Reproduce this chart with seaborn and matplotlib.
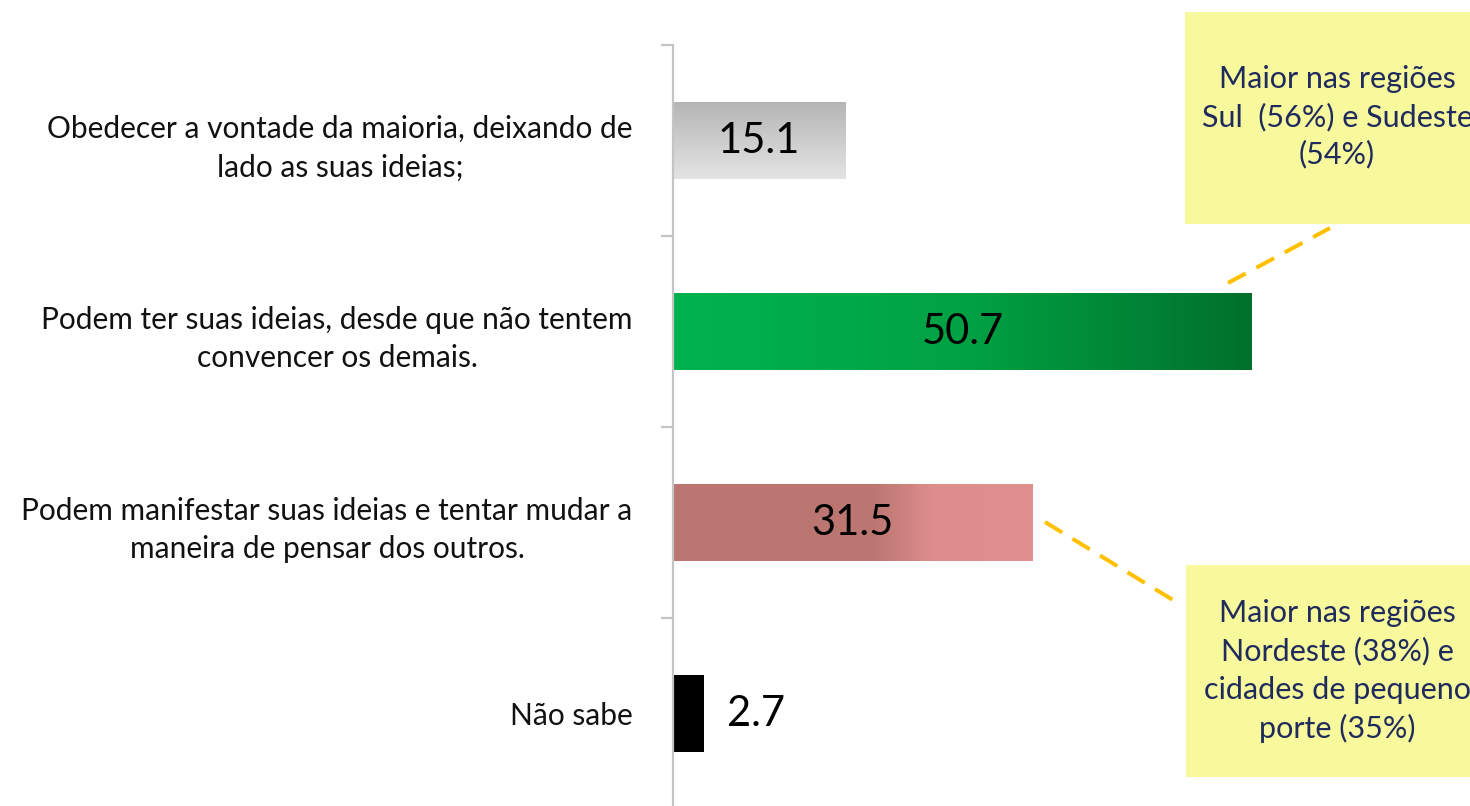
import numpy as np
import pandas as pd
import matplotlib
matplotlib.use("Agg")
import matplotlib.pyplot as plt
import seaborn as sns
from matplotlib.colors import LinearSegmentedColormap
from matplotlib.patches import Rectangle
from matplotlib.lines import Line2D

# ---------------- data ----------------
categories = [
    "Obedecer a vontade da maioria, deixando de\nlado as suas ideias;",
    "Podem ter suas ideias, desde que não tentem\nconvencer os demais.",
    "Podem manifestar suas ideias e tentar mudar a\nmaneira de pensar dos outros.",
    "Não sabe",
]
values = [15.1, 50.7, 31.5, 2.7]
value_labels = ["15.1", "50.7", "31.5", "2.7"]

note_top = "Maior nas regiões\nSul  (56%) e Sudeste\n(54%)"
note_bottom = "Maior nas regiões\nNordeste (38%) e\ncidades de pequeno\nporte (35%)"

# gradients for each bar (direction, colour stops)
gray_grad = LinearSegmentedColormap.from_list("g", ["#b5b5b5", "#e4e4e4"])
green_grad = LinearSegmentedColormap.from_list("gr", ["#00b34f", "#00a244", "#00702b"])
red_grad = LinearSegmentedColormap.from_list(
    "r", [(0, "#bb7672"), (0.56, "#bc7773"), (0.72, "#dd8d8b"), (1, "#df8f8d")])
black_grad = LinearSegmentedColormap.from_list("b", ["#000000", "#000000"])
bar_styles = [("v", gray_grad), ("h", green_grad), ("h", red_grad), ("h", black_grad)]

df = pd.DataFrame({"cat": categories, "val": values})

# ---------------- plot ----------------
sns.set_theme(style="white")
plt.rcParams["font.family"] = ["Lato", "DejaVu Sans"]

fig = plt.figure(figsize=(14.7, 8.06), dpi=100)
ax = fig.add_axes([673 / 1470, 0, 797 / 1470, 761 / 806])

sns.barplot(data=df, x="val", y="cat", orient="h", width=0.4, color="white",
            edgecolor="none", ax=ax)

# paint gradients into the bars
for patch, (direction, cmap) in zip(ax.patches, bar_styles):
    x0, y0 = patch.get_x(), patch.get_y()
    w, h = patch.get_width(), patch.get_height()
    if direction == "h":
        arr = np.linspace(0, 1, 512).reshape(1, -1)
    else:
        arr = np.linspace(0, 1, 512).reshape(-1, 1)
    im = ax.imshow(arr, cmap=cmap, extent=(x0, x0 + w, y0 + h, y0),
                   origin="upper", aspect="auto", zorder=2,
                   interpolation="bilinear")
    im.set_clip_path(patch)
    patch.set_facecolor("none")

ax.set_xlim(0, 69.8)
ax.set_ylim(3.484, -0.5)

# value labels
for i, (v, lab) in enumerate(zip(values, value_labels)):
    if v > 10:
        ax.text(v / 2, i, lab, ha="center", va="center", fontsize=30,
                color="black", zorder=3)
    else:
        ax.text(v + 2.0, i, lab, ha="left", va="center", fontsize=30,
                color="black", zorder=3)

# axes styling
for s in ["top", "right", "bottom"]:
    ax.spines[s].set_visible(False)
ax.spines["left"].set_color("#c4c4c4")
ax.spines["left"].set_linewidth(1.6)
ax.set_xticks([])
ax.set_xlabel("")
ax.set_ylabel("")

ax.set_yticks([-0.5, 0.5, 1.5, 2.5])
ax.set_yticklabels([])
ax.tick_params(axis="y", which="major", left=True, length=9, width=1.6,
               color="#c4c4c4", direction="out")
ax.set_yticks(range(len(categories)), minor=True)
ax.set_yticklabels(categories, minor=True, fontsize=21.5, color="#111111")
ax.tick_params(axis="y", which="minor", length=0, pad=29)
for t in ax.get_yticklabels(minor=True):
    t.set_multialignment("center")
    t.set_linespacing(1.45)

# callout boxes
box_col = "#f8f89c"
txt_col = "#1f2b5c"
fig.patches.append(Rectangle((1185 / 1470, 1 - 224 / 806), 0.25, 212 / 806,
                             transform=fig.transFigure, facecolor=box_col,
                             edgecolor="none", zorder=1))
fig.patches.append(Rectangle((1186 / 1470, 1 - 777 / 806), 0.25, 212 / 806,
                             transform=fig.transFigure, facecolor=box_col,
                             edgecolor="none", zorder=1))
fig.text(1337 / 1470, 1 - 117 / 806, note_top, ha="center", va="center",
         fontsize=22, color=txt_col, linespacing=1.38)
fig.text(1337 / 1470, 1 - 671 / 806, note_bottom, ha="center", va="center",
         fontsize=22, color=txt_col, linespacing=1.42)

# dashed connectors
fig.lines.append(Line2D([1228 / 1470, 1330 / 1470], [1 - 283 / 806, 1 - 228 / 806],
                        transform=fig.transFigure, color="#ffc000", lw=2.9,
                        dashes=(5, 3)))
fig.lines.append(Line2D([1045 / 1470, 1173 / 1470], [1 - 522 / 806, 1 - 600 / 806],
                        transform=fig.transFigure, color="#ffc000", lw=2.9,
                        dashes=(5, 3)))

fig.savefig("out.png", dpi=100)
